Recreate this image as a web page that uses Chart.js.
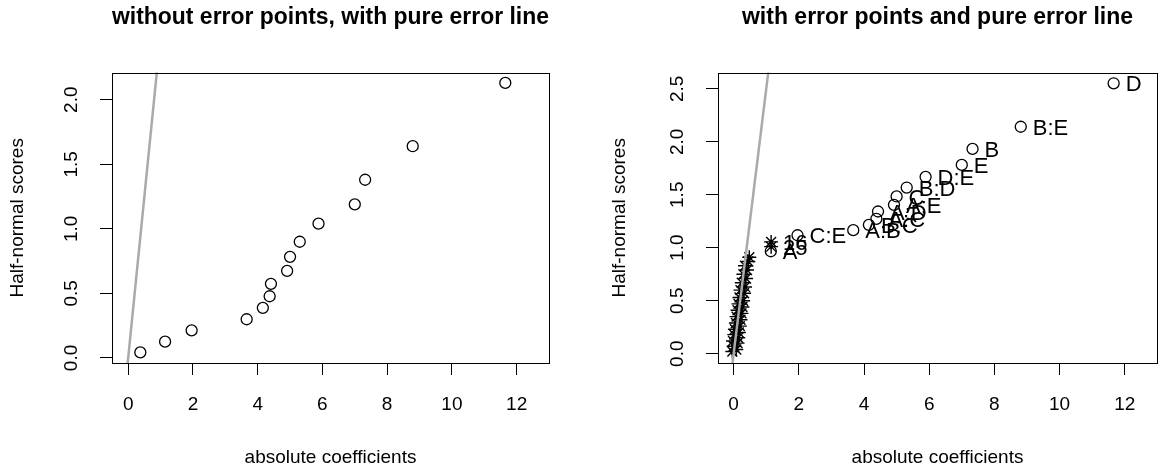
<!DOCTYPE html>
<html><head><meta charset="utf-8">
<script src="https://cdn.jsdelivr.net/npm/chart.js@4.4.1/dist/chart.umd.min.js"></script>
<style>
html,body{margin:0;padding:0;background:#fff;}
#wrap{position:relative;width:1174px;height:474px;overflow:hidden;background:#fff;}
canvas{position:absolute;top:0;}
</style></head><body>
<div id="wrap">
<canvas id="c1" width="590" height="474" style="left:0;width:590px;height:474px"></canvas>
<canvas id="c2" width="584" height="474" style="left:590px;width:584px;height:474px"></canvas>
</div>
<script>
// ---------- data ----------
const xTickValues = [0, 2, 4, 6, 8, 10, 12];
const yTickValuesLeft = [0, 0.5, 1.0, 1.5, 2.0];
const yTickValuesRight = [0, 0.5, 1.0, 1.5, 2.0, 2.5];

// left panel: effects only
const leftAbsCoef   = [0.375, 1.14, 1.96, 3.66, 4.16, 4.37, 4.41, 4.91, 5.00, 5.30, 5.88, 7.00, 7.32, 8.79, 11.65];
const leftHalfNorm  = [0.043, 0.126, 0.214, 0.300, 0.388, 0.478, 0.574, 0.674, 0.783, 0.900, 1.040, 1.190, 1.380, 1.640, 2.130];

// right panel: effects (circles, labelled)
const effAbsCoef    = [1.14, 1.96, 3.67, 4.15, 4.38, 4.43, 4.92, 5.00, 5.31, 5.89, 7.00, 7.33, 8.81, 11.66];
const effHalfNorm   = [0.967, 1.118, 1.166, 1.216, 1.273, 1.342, 1.405, 1.484, 1.568, 1.668, 1.782, 1.933, 2.142, 2.552];
const effLabels     = ["A", "C:E", "A:B", "B:C", "A:C", "A:D", "A:E", "C", "B:D", "D:E", "E", "B", "B:E", "D"];

// right panel: pure error points (asterisks)
const errAbsCoef    = [-0.04, 0.08, 0.00, 0.12, -0.02, 0.14, 0.02, 0.16, 0.04, 0.19, 0.07, 0.21, 0.09, 0.24, 0.12,
                       0.27, 0.15, 0.29, 0.18, 0.32, 0.21, 0.35, 0.25, 0.38, 0.30, 0.41, 0.35, 0.45, 0.48, 1.15, 1.15];
const errHalfNorm   = [0.02, 0.04, 0.07, 0.10, 0.12, 0.15, 0.18, 0.20, 0.23, 0.26, 0.29, 0.32, 0.35, 0.38, 0.41,
                       0.44, 0.47, 0.50, 0.53, 0.57, 0.60, 0.63, 0.67, 0.71, 0.75, 0.79, 0.83, 0.87, 0.91, 1.01, 1.055];
const errLabels     = ["", "", "", "", "", "", "", "", "", "", "", "", "", "", "",
                       "", "", "", "", "", "", "", "", "", "", "", "", "", "", "25", "16"];

// pure error line through the origin
const pureErrorSlope = 2.5;
const pureErrorX = [-0.2, 1.5];

// ---------- helpers ----------
const FONT = "'Liberation Sans', Arial, Helvetica, sans-serif";
const zip = (xs, ys) => xs.map((x, i) => ({x: x, y: ys[i]}));
const lineData = pureErrorX.map(x => ({x: x, y: pureErrorSlope * x}));

const framePlugin = {
  id: 'frame',
  afterDraw(chart) {
    const {ctx, chartArea: a} = chart;
    ctx.save();
    ctx.strokeStyle = '#000';
    ctx.lineWidth = 1;
    ctx.strokeRect(Math.round(a.left) + 0.5, Math.round(a.top) + 0.5,
                   Math.round(a.right - a.left), Math.round(a.bottom - a.top));
    ctx.restore();
  }
};

const yLabelPlugin = {
  id: 'ylabels',
  afterDraw(chart, args, opts) {
    const {ctx, chartArea: a} = chart;
    const ys = chart.scales.y;
    ctx.save();
    ctx.fillStyle = '#000';
    ctx.font = '19px ' + FONT;
    ctx.textAlign = 'center';
    ctx.textBaseline = 'middle';
    (opts.values || []).forEach(v => {
      const py = ys.getPixelForValue(v);
      ctx.save();
      ctx.translate(a.left - opts.offset, py);
      ctx.rotate(-Math.PI / 2);
      ctx.fillText(v.toFixed(1), 0, 0);
      ctx.restore();
    });
    ctx.restore();
  }
};

const pointLabelPlugin = {
  id: 'ptlabels',
  afterDatasetsDraw(chart) {
    const {ctx} = chart;
    ctx.save();
    ctx.fillStyle = '#000';
    ctx.font = '22px ' + FONT;
    ctx.textAlign = 'left';
    ctx.textBaseline = 'middle';
    chart.data.datasets.forEach((ds, di) => {
      if (!ds.pointText) return;
      const meta = chart.getDatasetMeta(di);
      meta.data.forEach((el, i) => {
        const t = ds.pointText[i];
        if (t) ctx.fillText(t, el.x + 12, el.y + 2);
      });
    });
    ctx.restore();
  }
};

function axisCommon(min, max, tickVals) {
  return {
    type: 'linear', min: min, max: max,
    afterBuildTicks: s => { s.ticks = tickVals.map(v => ({value: v})); },
    grid: {display: true, drawOnChartArea: false, drawTicks: true, tickLength: 12, color: '#000', lineWidth: 1},
    border: {display: false}
  };
}

function makeChart(id, cfg) {
  const x = axisCommon(cfg.xmin, cfg.xmax, xTickValues);
  x.afterFit = s => { s.height = 111; };
  x.ticks = {color: '#000', font: {family: FONT, size: 19}, padding: 18, maxRotation: 0, autoSkip: false,
             callback: v => String(v)};
  x.title = {display: true, text: 'absolute coefficients', color: '#000', font: {family: FONT, size: 19},
             padding: {top: 0, bottom: 5}};
  const y = axisCommon(cfg.ymin, cfg.ymax, cfg.yTicks);
  y.afterFit = s => { s.width = cfg.yWidth; };
  y.ticks = {display: false};
  y.title = {display: true, text: 'Half-normal scores', color: '#000', font: {family: FONT, size: 19},
             padding: {top: cfg.yTitlePad, bottom: 0}};
  return new Chart(document.getElementById(id), {
    type: 'scatter',
    data: {datasets: cfg.datasets},
    options: {
      responsive: false, animation: false, devicePixelRatio: 1, events: [],
      layout: {padding: {left: 0, right: cfg.padRight, top: 0, bottom: 0}},
      scales: {x: x, y: y},
      plugins: {
        legend: {display: false}, tooltip: {enabled: false},
        title: {display: true, text: cfg.title, color: '#000', fullSize: false,
                font: {family: FONT, size: 23, weight: 'bold'}, padding: {top: 4, bottom: 41}},
        ylabels: {values: cfg.yTicks, offset: 40}
      }
    },
    plugins: [framePlugin, yLabelPlugin, pointLabelPlugin]
  });
}

const lineDs = {data: lineData, showLine: true, borderColor: '#aaaaaa', borderWidth: 2.5,
                pointRadius: 0, clip: 0, order: 0};
const circleStyle = {pointStyle: 'circle', pointRadius: 5.5, borderColor: '#000', borderWidth: 1.3,
                     backgroundColor: 'rgba(0,0,0,0)', showLine: false};

makeChart('c1', {
  title: 'without error points, with pure error line',
  xmin: -0.50, xmax: 13.0, ymin: -0.039, ymax: 2.21, yTicks: yTickValuesLeft,
  yWidth: 112, padRight: 41, yTitlePad: 6,
  datasets: [
    Object.assign({}, lineDs),
    Object.assign({data: zip(leftAbsCoef, leftHalfNorm)}, circleStyle)
  ]
});

makeChart('c2', {
  title: 'with error points and pure error line',
  xmin: -0.48, xmax: 12.99, ymin: -0.088, ymax: 2.653, yTicks: yTickValuesRight,
  yWidth: 128, padRight: 17, yTitlePad: 18,
  datasets: [
    Object.assign({}, lineDs),
    Object.assign({data: zip(effAbsCoef, effHalfNorm), pointText: effLabels}, circleStyle),
    {data: zip(errAbsCoef, errHalfNorm), pointText: errLabels, pointStyle: 'star', pointRadius: 7,
     borderColor: '#000', borderWidth: 1.4, backgroundColor: '#000', showLine: false}
  ]
});
</script>
</body></html>
